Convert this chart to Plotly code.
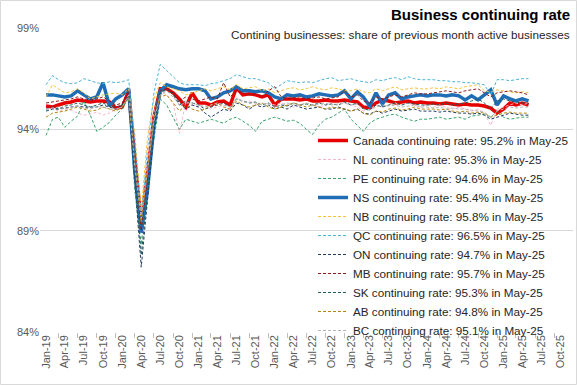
import pandas as pd
import plotly.graph_objects as go

months = pd.date_range("2019-01-01", "2025-05-01", freq="MS")

canada = [95.15, 95.1, 95.2, 95.3, 95.35, 95.45, 95.4, 95.35, 95.4, 95.4, 95.35, 95.05,
          95.1, 95.9, 92.6, 89.4, 91.8, 94.6, 96.0, 96.0, 95.8, 95.5, 95.1, 95.8,
          95.3, 95.3, 95.2, 95.35, 95.4, 95.2, 96.05, 95.7, 95.75, 95.7, 95.6, 95.7,
          95.2, 95.5, 95.5, 95.5, 95.45, 95.5, 95.4, 95.4, 95.45, 95.4, 95.4, 95.45,
          95.4, 95.35, 95.1, 95.05, 95.3, 95.45, 95.4, 95.3, 95.35, 95.4, 95.3, 95.35,
          95.3, 95.3, 95.25, 95.3, 95.25, 95.2, 95.25, 95.2, 95.2, 95.15, 95.05, 94.8,
          95.0, 95.3, 95.2, 95.3, 95.2]
nl = [95.0, 95.05, 94.9, 95.0, 94.95, 94.8, 94.7, 94.75, 94.85, 94.7, 94.8, 95.0,
      95.1, 95.6, 92.0, 89.8, 92.5, 94.8, 95.9, 95.7, 95.3, 93.8, 95.4, 95.2,
      95.1, 95.2, 95.0, 95.1, 95.2, 94.9, 95.6, 95.3, 95.4, 95.3, 95.2, 95.3,
      95.2, 95.3, 95.2, 95.1, 95.2, 95.3, 95.2, 95.1, 95.2, 95.3, 95.2, 95.3,
      95.2, 95.1, 94.9, 95.0, 95.2, 95.1, 95.2, 95.3, 95.2, 95.3, 95.2, 95.1,
      95.2, 95.1, 95.2, 95.1, 95.0, 95.1, 95.0, 94.9, 95.0, 94.8, 94.2, 95.0,
      95.1, 95.2, 95.3, 95.2, 95.3]
pe = [93.7, 94.5, 94.6, 94.1, 94.4, 94.65, 95.4, 94.7, 93.9, 94.1, 94.35, 94.7,
      95.0, 95.6, 91.0, 88.3, 91.5, 93.5, 95.5, 95.2, 94.6, 94.0, 94.5, 94.4,
      94.3, 94.4, 94.5, 94.4, 94.3, 94.5, 94.6, 94.4, 94.2, 93.9, 94.4, 94.5,
      94.6, 94.5, 94.4, 94.45, 94.3, 94.0, 93.75, 94.2, 94.5, 94.6, 94.8, 95.0,
      94.5, 94.2, 93.9, 94.3, 94.5, 94.6, 94.7, 94.75, 94.6, 94.5, 94.4, 94.5,
      94.5, 94.55, 94.6, 94.5, 94.55, 94.6, 94.5, 94.65, 94.7, 94.75, 94.6, 94.9,
      94.6, 94.5, 94.55, 94.6, 94.6]
ns = [95.7, 95.7, 95.65, 95.6, 95.65, 95.9, 95.7, 95.5, 95.6, 96.3, 95.15, 95.5,
      95.7, 96.0, 92.0, 88.9, 91.0, 94.2, 95.9, 96.2, 96.1, 96.0, 95.95, 96.0,
      96.0, 95.9, 95.5, 95.6, 95.8, 95.9, 96.1, 95.9, 95.9, 95.85, 95.9, 95.8,
      95.6, 95.5, 95.7, 95.65, 95.7, 95.6, 95.65, 95.75, 95.7, 95.65, 95.7, 95.9,
      95.5, 95.85, 95.6, 95.15, 95.8, 95.25, 95.7, 95.8, 95.5, 95.6, 95.65, 95.7,
      95.65, 95.7, 95.7, 95.65, 95.7, 95.65, 95.45, 95.65, 95.45, 95.7, 95.95, 95.2,
      95.65, 95.5, 95.4, 95.5, 95.4]
nb = [95.6, 96.2, 96.0, 95.8, 95.85, 96.0, 95.8, 95.5, 95.6, 95.7, 95.75, 95.8,
      95.7, 96.0, 93.8, 90.0, 93.6, 95.5, 96.3, 96.1, 96.0, 95.9, 95.7, 95.8,
      95.9, 96.0, 95.9, 96.0, 96.1, 95.95, 96.2, 96.0, 96.05, 96.1, 95.9, 96.0,
      95.8, 95.9, 96.0, 96.05, 95.95, 96.0, 96.1, 96.0, 95.95, 96.05, 96.0, 95.9,
      95.9, 96.0, 95.85, 95.8, 96.0, 95.9, 96.0, 96.1, 95.95, 96.0, 96.05, 96.0,
      96.0, 96.05, 96.0, 96.1, 96.05, 96.0, 96.1, 96.15, 96.2, 95.9, 95.85, 95.95,
      95.9, 95.85, 95.8, 95.85, 95.8]
qc = [96.2, 96.65, 96.45, 96.3, 96.25, 96.3, 96.5, 96.4, 96.3, 96.25, 96.35, 96.3,
      96.35, 96.45, 93.5, 89.6, 93.0, 95.8, 97.2, 96.9, 96.6, 96.3, 96.2, 96.2,
      96.2, 96.15, 96.25, 96.3, 96.4, 96.5, 96.7, 96.6, 96.5, 96.5, 96.4, 96.3,
      96.0, 96.2, 96.4, 96.35, 96.3, 96.35, 96.3, 96.4, 96.5, 96.55, 96.4, 96.45,
      96.5, 96.4, 96.35, 96.3, 96.45, 96.4, 96.5, 96.55, 96.45, 96.6, 96.5, 96.45,
      96.45, 96.45, 96.4, 96.4, 96.35, 96.35, 96.3, 96.3, 96.25, 96.2, 95.7, 96.45,
      96.45, 96.4, 96.45, 96.5, 96.5]
on = [94.9, 95.0, 95.0, 95.05, 95.1, 95.15, 95.1, 95.1, 95.1, 95.2, 95.1, 95.0,
      95.2, 95.8, 91.5, 87.2, 90.5, 93.9, 95.7, 96.0, 95.8, 95.3, 95.0, 95.2,
      95.1, 94.8, 94.6, 94.8, 95.0, 94.9, 95.3, 95.2, 95.0, 95.2, 95.1, 95.2,
      95.0, 95.1, 95.0, 95.2, 95.1, 95.0, 95.05, 95.1, 95.0, 95.0, 95.1, 95.0,
      94.9, 95.0, 94.8, 94.75, 94.9, 94.8, 94.9, 95.0, 94.9, 94.95, 95.0, 94.9,
      94.9, 94.9, 94.85, 94.9, 94.85, 94.8, 94.8, 94.75, 94.8, 94.7, 94.5, 94.6,
      94.7, 94.8, 94.75, 94.7, 94.7]
mb = [95.3, 95.35, 95.4, 95.45, 95.5, 95.6, 95.5, 95.45, 95.5, 95.6, 95.4, 95.2,
      95.3, 95.9, 92.3, 89.0, 91.5, 94.5, 95.9, 96.0, 95.8, 95.4, 95.6, 95.5,
      95.4, 95.5, 95.6, 95.5, 96.3, 95.6, 95.9, 95.8, 95.7, 95.75, 95.6, 95.9,
      96.1, 95.6, 95.5, 95.55, 95.6, 95.5, 95.55, 95.6, 95.5, 95.55, 95.6, 95.9,
      95.6, 95.7, 95.4, 95.3, 95.6, 95.5, 95.6, 95.7, 95.6, 95.7, 95.8, 95.75,
      95.75, 95.8, 95.85, 95.9, 95.85, 95.8, 95.9, 95.95, 96.0, 95.8, 95.6, 95.8,
      95.85, 95.9, 95.85, 95.8, 95.7]
sk = [95.0, 95.1, 95.0, 95.15, 95.2, 95.3, 95.2, 95.1, 95.2, 95.3, 95.15, 95.1,
      95.2, 95.6, 91.8, 87.8, 90.8, 94.2, 95.8, 96.0, 95.7, 95.2, 95.4, 95.3,
      95.2, 95.0, 95.1, 95.2, 95.3, 95.1, 95.5, 95.4, 95.3, 95.35, 95.2, 95.3,
      95.1, 95.2, 95.15, 95.3, 95.2, 95.25, 95.2, 95.3, 95.2, 95.25, 95.2, 95.35,
      95.2, 95.3, 95.0, 94.95, 95.2, 95.1, 95.2, 95.3, 95.2, 95.3, 95.25, 95.2,
      95.2, 95.25, 95.2, 95.3, 95.2, 95.25, 95.3, 95.4, 95.5, 95.3, 95.0, 95.4,
      95.5, 95.4, 95.35, 95.3, 95.3]
ab = [94.6, 94.8, 94.85, 94.9, 95.0, 95.1, 95.0, 94.9, 94.95, 95.1, 95.0, 94.9,
      95.1, 95.6, 92.4, 89.4, 92.0, 94.6, 95.6, 95.7, 95.3, 94.9, 95.2, 95.0,
      94.9, 95.0, 95.2, 95.3, 95.1, 95.0, 95.4, 95.2, 95.1, 95.2, 95.3, 95.1,
      95.0, 95.1, 95.2, 95.3, 95.2, 95.1, 95.2, 95.1, 95.0, 95.1, 95.05, 95.0,
      94.9, 95.0, 94.8, 94.7, 94.9, 94.85, 95.0, 95.05, 94.95, 95.0, 95.1, 95.0,
      95.0, 95.0, 94.95, 95.0, 94.9, 94.85, 94.9, 94.8, 94.85, 94.8, 94.6, 94.7,
      94.8, 94.85, 94.8, 94.8, 94.8]
bc = [95.0, 95.05, 95.1, 95.0, 95.1, 95.15, 95.05, 95.0, 95.1, 95.1, 95.0, 95.0,
      95.1, 95.7, 92.2, 89.6, 92.0, 94.4, 95.7, 95.9, 95.6, 95.2, 95.3, 95.3,
      95.2, 95.1, 95.2, 95.3, 95.2, 95.1, 95.5, 95.4, 95.3, 95.3, 95.2, 95.3,
      95.1, 95.2, 95.3, 95.25, 95.2, 95.3, 95.2, 95.25, 95.3, 95.2, 95.25, 95.3,
      95.2, 95.25, 95.0, 94.95, 95.1, 95.2, 95.15, 95.2, 95.1, 95.15, 95.2, 95.1,
      95.1, 95.05, 95.1, 95.0, 95.05, 95.0, 95.0, 94.95, 94.9, 94.85, 94.6, 94.9,
      95.0, 95.1, 95.05, 95.1, 95.1]

series_names = ["Canada", "NL", "PE", "NS", "NB", "QC", "ON", "MB", "SK", "AB", "BC"]
series_values = [canada, nl, pe, ns, nb, qc, on, mb, sk, ab, bc]
series_colors = ["#E60000", "#F6B8C8", "#34A36A", "#1F6EB5", "#F5C33B", "#4BB3D6",
                 "#1F3B64", "#8B1C1C", "#1D5E5A", "#B8860B", "#B4B4B4"]
thick = {"Canada", "NS"}

y_ticks = [84, 89, 94, 99]

W, H = 577, 385
ml, mr, mt, mb_ = 40, 4, 28, 53
pw, ph = W - ml - mr, H - mt - mb_

fig = go.Figure()
for name, vals, col in zip(series_names, series_values, series_colors):
    label = f"{name} continuing rate: {vals[-1]:.1f}% in {months[-1].strftime('%b-%y')}"
    if name in thick:
        line = dict(color=col, width=3.5)
    else:
        line = dict(color=col, width=1, dash="3px,2px")
    fig.add_trace(go.Scatter(x=months, y=vals, mode="lines", name=label, line=line))

fig.update_layout(
    width=W, height=H,
    margin=dict(l=ml, r=mr, t=mt, b=mb_, autoexpand=False),
    plot_bgcolor="white", paper_bgcolor="white",
    font=dict(family="Liberation Sans, Arial, sans-serif", color="#595959", size=11),
    showlegend=True,
    legend=dict(x=(313 - ml) / pw, y=(H - mb_ - 126) / ph, xanchor="left", yanchor="top",
                bgcolor="rgba(0,0,0,0)", font=dict(size=11.7, color="#262626"),
                tracegroupgap=0),
    xaxis=dict(type="date", range=["2018-12-03", "2025-11-30"], automargin=False,
               tick0="2019-01-01", dtick="M3", tickformat="%b-%y", tickangle=-90,
               ticks="", showgrid=False, showline=False, zeroline=False,
               tickfont=dict(size=11, color="#595959"),
               minor=dict(ticks="outside", ticklen=5, tickcolor="#BFBFBF",
                          dtick="M3", tick0="2018-12-01", showgrid=False)),
    yaxis=dict(range=[84, 99], tickvals=y_ticks, ticktext=[f"{v}%" for v in y_ticks],
               automargin=False,
               showgrid=True, gridcolor="#D9D9D9", gridwidth=1, zeroline=False,
               showline=False, ticks="", tickfont=dict(size=11, color="#595959")),
)

fig.add_annotation(text="<b>Business continuing rate</b>", xref="paper", yref="paper",
                   x=(572 - ml) / pw, y=1 + (mt - 14) / ph, xanchor="right", yanchor="middle",
                   showarrow=False,
                   font=dict(family="Liberation Sans Narrow, Arial Narrow, Liberation Sans, sans-serif",
                             size=15, color="#000000"))
fig.add_annotation(text="Contining businesses: share of previous month active businesses",
                   xref="paper", yref="paper", x=(572 - ml) / pw, y=1 - (34 - mt) / ph,
                   xanchor="right", yanchor="middle", showarrow=False,
                   font=dict(size=11.7, color="#262626"))
fig.add_shape(type="rect", xref="paper", yref="paper",
              x0=-(ml - 0.5) / pw, x1=1 + (mr - 0.5) / pw,
              y0=-(mb_ - 0.5) / ph, y1=1 + (mt - 0.5) / ph,
              line=dict(color="#D9D9D9", width=1), layer="below")

fig.write_html("out.html", config={"displayModeBar": False},
               post_script="document.body.style.margin='0';document.body.style.overflow='hidden';")
